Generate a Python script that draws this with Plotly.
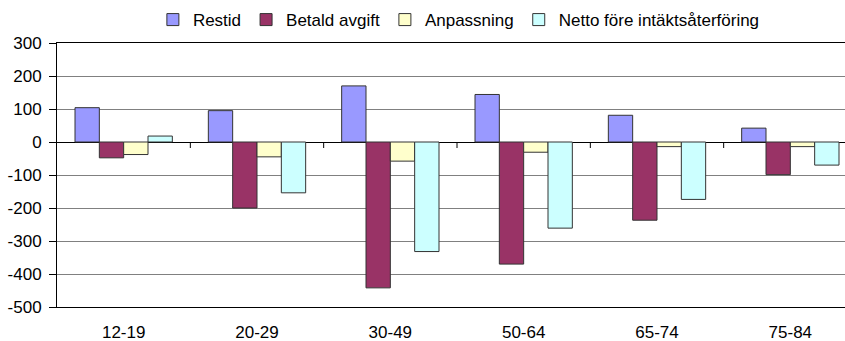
import plotly.graph_objects as go

# Age groups and component values (SEK per person and year)
categories = ["12-19", "20-29", "30-49", "50-64", "65-74", "75-84"]
restid = [104, 95, 170, 144, 81, 42]
betald_avgift = [-48, -200, -442, -370, -237, -99]
anpassning = [-38, -45, -58, -31, -14, -14]
netto = [18, -154, -332, -261, -174, -70]

series = [
    ("Restid", restid, "#9999FF"),
    ("Betald avgift", betald_avgift, "#993366"),
    ("Anpassning", anpassning, "#FFFFCC"),
    ("Netto före intäktsåterföring", netto, "#CCFFFF"),
]

y_ticks = [300, 200, 100, 0, -100, -200, -300, -400, -500]
y_tick_labels = [str(v) for v in y_ticks]  # plain hyphen-minus
font_family = "Liberation Sans, Arial, sans-serif"

fig = go.Figure()
for name, values, color in series:
    fig.add_trace(go.Bar(
        x=categories, y=values, name=name,
        marker=dict(color=color, line=dict(color="#333333", width=1)),
    ))

n = len(categories)
x_range = [-0.5, n - 0.59]

# small separators between categories, hanging below the zero line
for i in range(n - 1):
    fig.add_shape(
        type="line", xref="x", yref="y",
        ysizemode="pixel", yanchor=0,
        x0=i + 0.5, x1=i + 0.5, y0=0, y1=-6,
        line=dict(color="black", width=1),
    )

fig.update_layout(
    width=845, height=341,
    margin=dict(l=57, r=0, t=43, b=34),
    paper_bgcolor="white", plot_bgcolor="white",
    font=dict(family=font_family, size=17, color="black"),
    barmode="group", bargap=0.27, bargroupgap=0,
    legend=dict(
        orientation="h", x=0.51, xanchor="center", y=1.087, yanchor="middle",
        font=dict(size=17), itemwidth=30, traceorder="normal",
        bgcolor="rgba(0,0,0,0)",
    ),
    xaxis=dict(
        type="category", range=x_range,
        showline=True, linecolor="black", linewidth=1, mirror=True,
        ticks="outside", ticklen=10, tickcolor="rgba(0,0,0,0)",
        showgrid=False, zeroline=False,
    ),
    yaxis=dict(
        range=[-500, 300], tickmode="array",
        tickvals=y_ticks, ticktext=y_tick_labels,
        showline=True, linecolor="black", linewidth=1,
        ticks="outside", ticklen=7, tickcolor="black",
        ticklabelstandoff=4,
        showgrid=True, gridcolor="#808080", gridwidth=1,
        zeroline=True, zerolinecolor="black", zerolinewidth=1,
    ),
)

fig.write_html("out.html")
